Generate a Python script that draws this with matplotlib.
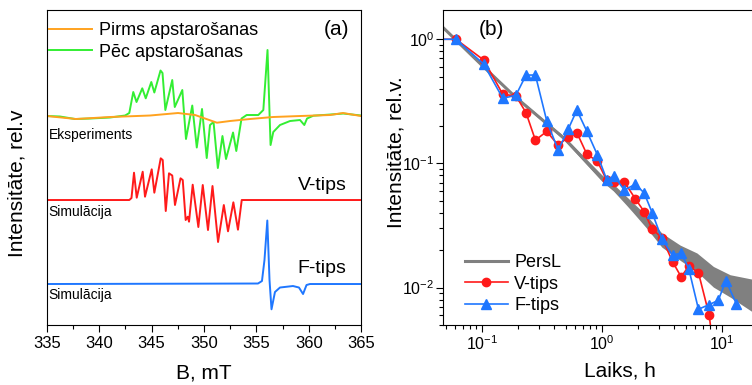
import matplotlib
matplotlib.use('Agg')
import matplotlib.pyplot as plt
from matplotlib.ticker import MultipleLocator, LogLocator, NullFormatter

plt.rcParams['font.family'] = ['Liberation Sans', 'DejaVu Sans']
plt.rcParams['mathtext.default'] = 'regular'

# ---- (a) EPR spectra: field in mT, intensity in arbitrary (offset) units ----
b_orange = [335.0, 337.8, 341.04, 344.86, 347.53, 349.16, 351.24, 352.49, 354.4,
            356.59, 359.17, 362.03, 363.27, 364.99]
i_orange = [209, 206, 208, 209.5, 212, 210, 202.3, 204, 206, 208, 209, 210, 212, 209]

b_green = [335.0, 336.27, 337.71, 339.14, 341.04, 342.48, 342.88, 343.26, 343.57,
           344.12, 344.45, 344.98, 345.27, 345.86, 346.05, 346.32, 346.98, 347.22,
           347.94, 348.29, 348.89, 349.32, 349.82, 350.27, 350.58, 350.92, 351.33,
           351.77, 352.11, 352.78, 353.09, 353.59, 354.08, 355.19, 355.67, 356.07,
           356.36, 356.62, 357.26, 358.22, 359.17, 359.58, 359.84, 360.44, 362.35,
           363.3, 364.99]
i_green = [209, 208.5, 206, 206.5, 207.5, 209.5, 212, 233, 223, 236.7, 226.7, 243,
           232.5, 254.5, 252, 215, 245, 218, 235, 186, 219.5, 177.5, 216, 167, 200,
           203, 157, 189, 166, 192.5, 174, 206.5, 210, 210, 215, 275, 180, 193, 200,
           204, 205, 200, 206.5, 209.3, 210.7, 211.5, 209.5]

b_red = [335.0, 342.88, 343.09, 343.33, 343.59, 344.16, 344.38, 345.02, 345.27,
         345.88, 346.07, 346.36, 346.67, 346.98, 347.24, 347.77, 347.98, 348.26,
         348.46, 348.58, 348.93, 349.47, 349.89, 350.39, 350.82, 351.35, 351.9,
         352.3, 352.81, 353.25, 353.61, 364.99]
i_red = [125, 125, 127, 152.3, 127.3, 153.3, 128.3, 155.7, 132.3, 166.7, 165, 114,
         151.7, 149.5, 120, 146.7, 145, 105, 108.3, 103.3, 140.3, 98, 140, 95, 139,
         83, 120, 93.7, 122.7, 95.3, 125, 125]

b_blue = [335.0, 355.16, 355.54, 355.78, 356.05, 356.26, 356.45, 356.78, 357.26,
          358.5, 359.07, 359.46, 359.79, 360.12, 364.99]
i_blue = [41, 41.5, 44, 65, 104.5, 45, 15.7, 33, 37.5, 39, 37.5, 31, 40, 41, 41]

# ---- (b) decay curves ----
persl_t = [0.048, 0.1, 0.19, 0.49, 1.0, 1.25, 1.61, 1.83, 2.37, 3.16, 4.49, 6.2,
           8.5, 11.7, 17.9]
persl_hi = [1.25, 0.635, 0.352, 0.164, 0.081, 0.068, 0.054, 0.048, 0.038, 0.0275,
            0.022, 0.019, 0.0148, 0.0127, 0.0117]
persl_lo = [1.22, 0.605, 0.336, 0.153, 0.072, 0.060, 0.046, 0.040, 0.030, 0.0212,
            0.0166, 0.0134, 0.0101, 0.0084, 0.0064]
persl_mid = [1.235, 0.62, 0.344, 0.158, 0.076, 0.063, 0.050, 0.044, 0.034, 0.024,
             0.019, 0.016, 0.0122, 0.0103, 0.0087]

t_v = [0.03, 0.061, 0.104, 0.15, 0.193, 0.234, 0.28, 0.348, 0.434, 0.527, 0.62,
       0.75, 0.92, 1.10, 1.27, 1.54, 1.90, 2.25, 2.63, 3.16, 3.88, 4.58, 5.3, 6.38,
       7.84, 9.0]
i_v = [1.0, 1.0, 0.68, 0.36, 0.35, 0.256, 0.154, 0.181, 0.14, 0.164, 0.177, 0.119,
       0.104, 0.073, 0.071, 0.071, 0.052, 0.041, 0.0295, 0.0253, 0.0162, 0.0122,
       0.0149, 0.0132, 0.0060, 0.002]

t_f = [0.03, 0.061, 0.104, 0.15, 0.193, 0.234, 0.28, 0.348, 0.434, 0.527, 0.62,
       0.75, 0.92, 1.10, 1.27, 1.54, 1.90, 2.25, 2.63, 3.16, 3.88, 4.58, 5.3, 6.38,
       7.84, 9.33, 10.8, 13.2]
i_f = [1.0, 1.0, 0.63, 0.334, 0.355, 0.515, 0.515, 0.22, 0.128, 0.19, 0.269, 0.182,
       0.117, 0.074, 0.079, 0.061, 0.068, 0.058, 0.040, 0.0248, 0.0182, 0.019,
       0.0142, 0.0067, 0.0073, 0.0079, 0.0114, 0.0074]

fig = plt.figure(figsize=(7.52, 3.85), dpi=100)

# panel (a)
ax1 = fig.add_axes((0.0621, 0.1558, 0.4181, 0.8182))
g_line, = ax1.plot(b_green, i_green, color='#33ee33', lw=1.4)
o_line, = ax1.plot(b_orange, i_orange, color='#ffa21f', lw=1.4)
ax1.plot(b_red, i_red, color='#ff1a1a', lw=1.4)
ax1.plot(b_blue, i_blue, color='#1f77ff', lw=1.4)
ax1.set_xlim(335, 365)
ax1.set_ylim(0, 315)
ax1.set_yticks([])
ax1.xaxis.set_major_locator(MultipleLocator(5))
ax1.xaxis.set_minor_locator(MultipleLocator(2.5))
ax1.tick_params(axis='x', which='major', direction='out', length=5, width=0.8,
                labelsize=12, pad=3)
ax1.tick_params(axis='x', which='minor', direction='out', length=3, width=0.8)
ax1.set_xlabel('B, mT', fontsize=15, labelpad=9)
ax1.set_ylabel('Intensitāte, rel.v', fontsize=15)
ax1.yaxis.label.set_va('center')
ax1.yaxis.set_label_coords(-0.095, 0.45)

ax1.legend([o_line, g_line], ['Pirms apstarošanas', 'Pēc apstarošanas'],
           loc='upper left', bbox_to_anchor=(-0.016, 0.984), frameon=False,
           fontsize=13, handlelength=2.4, handletextpad=0.35, labelspacing=0.25,
           borderaxespad=0.2, borderpad=0.2)
ax1.text(0.923, 0.937, '(a)', transform=ax1.transAxes, fontsize=15,
         ha='center', va='center')
ax1.text(335.2, 190, 'Eksperiments', fontsize=10, ha='left', va='center')
ax1.text(335.2, 113, 'Simulācija', fontsize=10, ha='left', va='center')
ax1.text(335.2, 30, 'Simulācija', fontsize=10, ha='left', va='center')
ax1.text(363.6, 140, 'V-tips', fontsize=14, ha='right', va='center')
ax1.text(363.6, 57, 'F-tips', fontsize=14, ha='right', va='center')

# panel (b)
ax2 = fig.add_axes((0.5895, 0.1558, 0.47, 0.8182))
ax2.set_xscale('log')
ax2.set_yscale('log')
ax2.fill_between(persl_t, persl_lo, persl_hi, color='#808080', lw=0)
p_line, = ax2.plot(persl_t, persl_mid, color='#808080', lw=2.2)
v_line, = ax2.plot(t_v, i_v, color='#ff1a1a', lw=1.2, marker='o', ms=6,
                   mfc='#ff1a1a', mec='#ff1a1a')
f_line, = ax2.plot(t_f, i_f, color='#1f77ff', lw=1.2, marker='^', ms=7,
                   mfc='#1f77ff', mec='#1f77ff')
ax2.set_xlim(0.0479, 42)
ax2.set_ylim(0.005, 1.72)
ax2.spines['right'].set_visible(False)
ax2.xaxis.set_major_locator(LogLocator(base=10))
ax2.xaxis.set_minor_locator(LogLocator(base=10, subs=range(2, 10)))
ax2.xaxis.set_minor_formatter(NullFormatter())
ax2.yaxis.set_minor_locator(LogLocator(base=10, subs=range(2, 10)))
ax2.yaxis.set_minor_formatter(NullFormatter())
ax2.tick_params(which='major', direction='out', length=5, width=0.8,
                labelsize=11.5, pad=1.5)
ax2.tick_params(which='minor', direction='out', length=3, width=0.8)
ax2.set_xlabel('Laiks, h', fontsize=15, labelpad=6)
ax2.set_ylabel('Intensitāte, rel.v.', fontsize=15)
ax2.yaxis.label.set_va('center')
ax2.yaxis.set_label_coords(-0.135, 0.55)
ax2.text(0.137, 0.937, '(b)', transform=ax2.transAxes, fontsize=15,
         ha='center', va='center')
ax2.legend([p_line, v_line, f_line], ['PersL', 'V-tips', 'F-tips'],
           loc='lower left', bbox_to_anchor=(0.04, 0.011), frameon=False,
           fontsize=13, handlelength=2.4, handletextpad=0.35, labelspacing=0.25,
           borderaxespad=0.2, borderpad=0.2)

fig.savefig('out.png', dpi=100)
